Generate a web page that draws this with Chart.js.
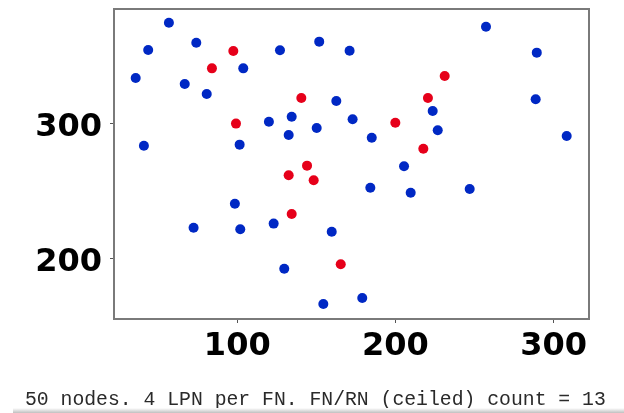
<!DOCTYPE html>
<html>
<head>
<meta charset="utf-8">
<script src="https://cdn.jsdelivr.net/npm/chart.js@4.4.1/dist/chart.umd.min.js"></script>
<style>
  html, body { margin: 0; padding: 0; background: #fff; }
  #wrap { position: relative; width: 624px; height: 413px; overflow: hidden; }
  #c { position: absolute; left: 0; top: 0; }
  #caption { position: absolute; left: 25px; top: 390px; font-family: "Liberation Mono", "DejaVu Sans Mono", monospace; font-size: 19.75px; color: #2a2a2a; white-space: pre; line-height: 20px; }
  #shade { position: absolute; left: 13px; right: 0; top: 408px; height: 5px; background: linear-gradient(#ffffff, #c0c0c0); }
</style>
</head>
<body>
<div id="wrap">
  <canvas id="c" width="624" height="413"></canvas>
  <div id="caption">50 nodes. 4 LPN per FN. FN/RN (ceiled) count = 13</div>
  <div id="shade"></div>
</div>
<script>
// Blue nodes
const blueX = [56.8, 43.7, 74.1, 127.0, 151.8, 171.0, 103.8, 35.8, 66.8, 80.7, 162.6, 120.0, 134.4, 150.2, 132.5, 172.9, 41.0, 101.5, 257.2, 289.3, 288.6, 223.5, 226.7, 308.2, 185.0, 205.4, 98.5, 72.4, 101.9, 123.0, 159.7, 129.7, 154.4, 179.0, 184.1, 209.6, 246.9];
const blueY = [374.4, 354.2, 359.6, 354.0, 360.4, 353.7, 340.7, 333.6, 329.2, 321.8, 316.6, 301.3, 305.0, 296.7, 291.5, 303.1, 283.6, 284.4, 371.4, 352.3, 317.9, 309.2, 295.0, 290.8, 289.5, 268.4, 240.8, 223.1, 221.9, 226.1, 220.1, 192.8, 166.8, 171.2, 252.6, 248.9, 251.7];
// Red nodes
const redX = [97.5, 84.0, 140.5, 99.2, 144.1, 231.1, 220.5, 199.9, 217.6, 132.5, 148.3, 134.4, 165.4];
const redY = [353.5, 340.7, 318.8, 299.9, 268.9, 335.1, 318.8, 300.6, 281.4, 261.8, 258.1, 233.2, 196.1];
// Ticks
const xTickValues = [100, 200, 300];
const yTickValues = [200, 300];

const toPts = (xs, ys) => xs.map((x, i) => ({ x: x, y: ys[i] }));

const frame = {
  id: 'frame',
  afterDatasetsDraw(chart) {
    const a = chart.chartArea, ctx = chart.ctx;
    ctx.save();
    ctx.strokeStyle = '#7a7a7a';
    ctx.lineWidth = 2;
    ctx.strokeRect(a.left, a.top, a.right - a.left, a.bottom - a.top);
    ctx.restore();
  }
};

const tickFont = { family: 'DejaVu Sans', weight: 'bold', size: 32 };

new Chart(document.getElementById('c'), {
  type: 'scatter',
  data: {
    datasets: [
      { data: toPts(blueX, blueY), backgroundColor: '#0028c4', borderWidth: 0, pointRadius: 5 },
      { data: toPts(redX, redY), backgroundColor: '#e6001a', borderWidth: 0, pointRadius: 5 }
    ]
  },
  options: {
    responsive: false,
    animation: false,
    layout: { padding: { left: 0, top: 9, right: 35, bottom: 0 } },
    plugins: { legend: { display: false }, tooltip: { enabled: false } },
    scales: {
      x: {
        type: 'linear', min: 22.1, max: 322.3,
        afterBuildTicks: s => { s.ticks = xTickValues.map(v => ({ value: v })); },
        afterFit: s => { s.height = 94; s.paddingLeft = 0; s.paddingRight = 0; },
        grid: { display: true, drawOnChartArea: false, drawTicks: true, tickLength: 4, color: '#555', lineWidth: 1 },
        border: { display: false },
        ticks: { font: tickFont, color: '#000', padding: 4, maxRotation: 0, autoSkip: false }
      },
      y: {
        type: 'linear', min: 155.7, max: 384.5,
        afterBuildTicks: s => { s.ticks = yTickValues.map(v => ({ value: v })); },
        afterFit: s => { s.width = 114; s.paddingTop = 0; s.paddingBottom = 0; },
        grid: { display: true, drawOnChartArea: false, drawTicks: true, tickLength: 4, color: '#555', lineWidth: 1 },
        border: { display: false },
        ticks: { font: tickFont, color: '#000', padding: 8, labelOffset: 4, autoSkip: false }
      }
    }
  },
  plugins: [frame]
});
</script>
</body>
</html>
